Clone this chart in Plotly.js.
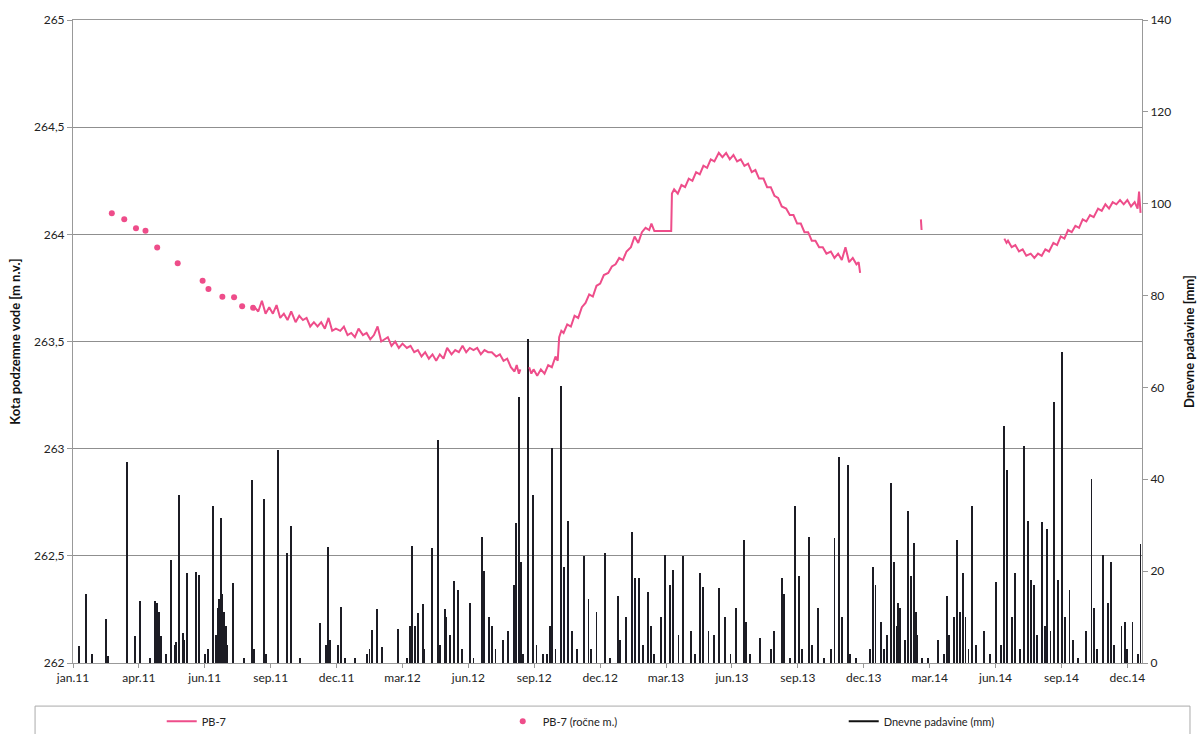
<!DOCTYPE html>
<html>
<head>
<meta charset="utf-8">
<script src="https://cdn.plot.ly/plotly-3.0.1.min.js"></script>
<style>html,body{margin:0;padding:0;background:#fff;}#chart{width:1197px;height:734px;}</style>
</head>
<body>
<div id="chart"></div>
<script>
// Manual measurements PB-7 (ročne m.)
const manualDates = ['2011-02-23','2011-03-12','2011-03-28','2011-04-10','2011-04-26','2011-05-24','2011-06-27','2011-07-05','2011-07-24','2011-08-09','2011-08-20','2011-09-04'];
const manualLevel = [264.098,264.070,264.028,264.017,263.938,263.865,263.784,263.745,263.709,263.706,263.665,263.657];

// Continuous logger PB-7 (m n.v.)
const pb7Dates = [
'2011-09-06','2011-09-11','2011-09-16','2011-09-21','2011-09-26',
'2011-10-01','2011-10-06','2011-10-11','2011-10-16','2011-10-21','2011-10-26',
'2011-11-01','2011-11-06','2011-11-11','2011-11-16','2011-11-21','2011-11-26',
'2011-12-01','2011-12-06','2011-12-11','2011-12-16','2011-12-21','2011-12-26',
'2012-01-01','2012-01-06','2012-01-11','2012-01-16','2012-01-21','2012-01-26',
'2012-02-01','2012-02-06','2012-02-11','2012-02-16','2012-02-21','2012-02-26',
'2012-03-01','2012-03-06','2012-03-11','2012-03-16','2012-03-21','2012-03-26',
'2012-04-01','2012-04-06','2012-04-11','2012-04-16','2012-04-21','2012-04-26',
'2012-05-01','2012-05-06','2012-05-11','2012-05-16','2012-05-21','2012-05-26',
'2012-06-01','2012-06-06','2012-06-11','2012-06-16','2012-06-21','2012-06-26',
'2012-07-01','2012-07-06','2012-07-11','2012-07-16','2012-07-21','2012-07-26',
'2012-08-01','2012-08-06','2012-08-11','2012-08-16','2012-08-21','2012-08-26','2012-08-29','2012-09-01','2012-09-03',
'2012-09-09',
'2012-09-15','2012-09-18','2012-09-21','2012-09-26',
'2012-10-01','2012-10-06','2012-10-11','2012-10-16','2012-10-21','2012-10-24','2012-10-26','2012-10-29',
'2012-11-01','2012-11-06','2012-11-11','2012-11-16','2012-11-21','2012-11-26',
'2012-12-01','2012-12-06','2012-12-11','2012-12-16','2012-12-21','2012-12-26',
'2013-01-01','2013-01-06','2013-01-11','2013-01-16','2013-01-21','2013-01-26',
'2013-02-01','2013-02-06','2013-02-11','2013-02-16','2013-02-21','2013-02-26',
'2013-03-01','2013-03-03','2013-03-05','2013-03-28','2013-03-29',
'2013-04-01','2013-04-06','2013-04-11','2013-04-16','2013-04-21','2013-04-26',
'2013-05-01','2013-05-06','2013-05-11','2013-05-16','2013-05-21','2013-05-26',
'2013-06-01','2013-06-06','2013-06-11','2013-06-16','2013-06-21','2013-06-26',
'2013-07-01','2013-07-06','2013-07-11','2013-07-16','2013-07-21','2013-07-26',
'2013-08-01','2013-08-06','2013-08-11','2013-08-16','2013-08-21','2013-08-26',
'2013-09-01','2013-09-06','2013-09-11','2013-09-16','2013-09-21','2013-09-26',
'2013-10-01','2013-10-06','2013-10-11','2013-10-16','2013-10-21','2013-10-26',
'2013-11-01','2013-11-06','2013-11-11','2013-11-16','2013-11-21','2013-11-26',
'2013-12-01','2013-12-06','2013-12-09','2013-12-11',
'2014-01-15',
'2014-03-04','2014-03-05',
'2014-04-20',
'2014-06-26','2014-06-29',
'2014-07-01','2014-07-06','2014-07-11','2014-07-16','2014-07-21','2014-07-26',
'2014-08-01','2014-08-06','2014-08-11','2014-08-16','2014-08-21','2014-08-26',
'2014-09-01','2014-09-06','2014-09-11','2014-09-16','2014-09-21','2014-09-26',
'2014-10-01','2014-10-06','2014-10-11','2014-10-16','2014-10-21','2014-10-26',
'2014-11-01','2014-11-06','2014-11-11','2014-11-16','2014-11-21','2014-11-26',
'2014-12-01','2014-12-06','2014-12-11','2014-12-16','2014-12-21','2014-12-25','2014-12-27','2014-12-29'
];
const pb7Level = [
263.66,263.64,263.69,263.63,263.66,
263.63,263.67,263.61,263.63,263.60,263.64,
263.59,263.62,263.60,263.61,263.57,263.59,
263.57,263.59,263.56,263.61,263.55,263.56,
263.55,263.57,263.53,263.54,263.52,263.56,
263.53,263.54,263.51,263.53,263.57,263.50,
263.51,263.52,263.48,263.50,263.47,263.49,
263.47,263.48,263.45,263.46,263.43,263.45,
263.42,263.44,263.41,263.44,263.42,263.47,
263.44,263.46,263.45,263.48,263.45,263.47,
263.46,263.47,263.44,263.46,263.45,263.45,
263.43,263.44,263.41,263.42,263.38,263.36,263.39,263.35,263.37,
null,
263.38,263.35,263.37,263.34,
263.37,263.35,263.39,263.38,263.43,263.41,263.52,263.55,
263.54,263.58,263.57,263.62,263.61,263.66,
263.68,263.72,263.71,263.76,263.77,263.81,
263.82,263.85,263.86,263.89,263.88,263.92,
263.94,263.99,263.96,264.01,264.03,264.02,
264.05,264.03,264.015,264.015,264.19,
264.21,264.19,264.23,264.22,264.26,264.25,
264.29,264.28,264.32,264.31,264.35,264.34,
264.38,264.36,264.38,264.35,264.37,264.34,
264.35,264.32,264.33,264.29,264.30,264.26,
264.26,264.22,264.22,264.18,264.17,264.13,
264.12,264.09,264.09,264.05,264.05,264.01,
264.01,263.97,263.97,263.94,263.94,263.91,
263.92,263.89,263.91,263.88,263.94,263.87,
263.89,263.86,263.87,263.82,
null,
264.07,264.02,
null,
263.98,263.96,
263.97,263.94,263.95,263.92,263.93,263.90,
263.91,263.89,263.91,263.90,263.93,263.92,
263.96,263.95,263.99,263.98,264.02,264.01,
264.04,264.03,264.07,264.06,264.09,264.08,
264.12,264.11,264.14,264.12,264.15,264.14,
264.16,264.14,264.16,264.13,264.15,264.12,264.20,264.10
];

// Daily precipitation (mm)
const rainDates = [
'2011-01-09','2011-01-19','2011-01-27','2011-02-15','2011-02-18','2011-03-16','2011-03-27','2011-04-02','2011-04-16','2011-04-23',
'2011-04-26','2011-04-28','2011-05-01','2011-05-08','2011-05-15','2011-05-20','2011-05-22','2011-05-26','2011-05-31','2011-06-02',
'2011-06-06','2011-06-18','2011-06-22','2011-06-30','2011-07-04','2011-07-11','2011-07-15','2011-07-18','2011-07-19','2011-07-22',
'2011-07-23','2011-07-26','2011-07-29','2011-07-30','2011-08-07','2011-08-22','2011-09-02','2011-09-05','2011-09-19','2011-09-21',
'2011-10-08','2011-10-20','2011-10-26','2011-11-07','2011-12-04','2011-12-12','2011-12-15','2011-12-18','2011-12-29','2012-01-02',
'2012-01-07','2012-01-21','2012-02-06','2012-02-10','2012-02-13','2012-02-20','2012-02-27','2012-03-20','2012-04-01','2012-04-05',
'2012-04-08','2012-04-12','2012-04-16','2012-04-23','2012-04-25','2012-05-05','2012-05-13','2012-05-16','2012-05-23','2012-05-25',
'2012-05-30','2012-06-04','2012-06-10','2012-06-15','2012-06-26','2012-07-01','2012-07-12','2012-07-15','2012-07-22','2012-07-26',
'2012-07-31','2012-08-10','2012-08-17','2012-08-25','2012-08-28','2012-09-01','2012-09-04','2012-09-06','2012-09-13','2012-09-20',
'2012-09-25','2012-10-04','2012-10-09','2012-10-13','2012-10-16','2012-10-21','2012-10-28','2012-11-01','2012-11-07','2012-11-12',
'2012-11-19','2012-11-29','2012-12-05','2012-12-09','2012-12-16','2012-12-27','2013-01-03','2013-01-14','2013-01-17','2013-01-25',
'2013-02-03','2013-02-06','2013-02-12','2013-02-18','2013-02-24','2013-02-28','2013-03-05','2013-03-14','2013-03-19','2013-03-26',
'2013-03-30','2013-04-07','2013-04-13','2013-04-24','2013-04-30','2013-05-06','2013-05-11','2013-05-18','2013-05-26','2013-06-01',
'2013-06-09','2013-06-17','2013-06-25','2013-07-05','2013-07-08','2013-07-13','2013-07-27','2013-08-11','2013-08-16','2013-08-26',
'2013-08-29','2013-09-06','2013-09-13','2013-09-18','2013-09-23','2013-10-02','2013-10-06','2013-10-14','2013-10-23','2013-11-01',
'2013-11-06','2013-11-12','2013-11-16','2013-11-24','2013-11-27','2013-12-05','2013-12-24','2013-12-28','2014-01-01','2014-01-08',
'2014-01-13','2014-01-17','2014-01-22','2014-01-26','2014-01-30','2014-02-01','2014-02-04','2014-02-10','2014-02-14','2014-02-18',
'2014-02-22','2014-02-25','2014-02-27','2014-03-06','2014-03-14','2014-03-27','2014-04-05','2014-04-09','2014-04-12','2014-04-18',
'2014-04-22','2014-04-26','2014-04-30','2014-05-04','2014-05-08','2014-05-13','2014-05-18','2014-05-29','2014-06-06','2014-06-15',
'2014-06-22','2014-06-26','2014-06-30','2014-07-06','2014-07-11','2014-07-17','2014-07-23','2014-07-28','2014-08-01','2014-08-06',
'2014-08-10','2014-08-16','2014-08-20','2014-08-23','2014-08-28','2014-09-02','2014-09-07','2014-09-13','2014-09-17','2014-09-23',
'2014-09-28','2014-10-04','2014-10-16','2014-10-23','2014-10-27','2014-10-31','2014-11-08','2014-11-14','2014-11-19','2014-11-23',
'2014-12-03','2014-12-08','2014-12-11','2014-12-18','2014-12-25','2014-12-29'
];
const rainMm = [
3.6,15,2,9.5,1.5,43.7,5.9,13.6,1,13.4,
13,11,5.9,2,22.5,4,4.5,36.6,6.5,5,
19.6,19.8,19.2,2,3,34.1,6,12,14,31.5,
15,11,8,4,17.5,1,39.9,3,35.8,2,
46.4,23.9,29.9,1,8.8,4,25.2,5,4,12.3,
1,1,2,3,7.2,11.7,3.5,7.3,1,8,
25.4,8,10.8,12.8,3,25,48.6,4,11.7,10,
6,17.9,16,3,13,1,27.5,20,10,8,
3,5,7,17,30.5,57.9,22,2,70.6,36.6,
4,2,2,8,46.8,3,60.3,21,31,7,
3,23.2,14,3,11,24,1,14.6,5,10,
28.5,18.5,18.6,4,15.4,8,2,10,23.5,16.9,
20.3,6,23.3,7,2,19.6,16.5,7,6,16.4,
10,2,12,26.7,9,2,5.5,3,7,18.5,
15,1,34.2,19,3,27.5,4,11.9,1,3,
27.2,44.8,10,43.2,2,1,3,21,17,9,
3,6,39.3,22,8,13,12,5,33,19,
26.2,11,6,1,1,5,2,14.6,6,10,
26.7,11,19.7,10,3,34.1,4,7,2,17.7,
4,51.7,42,10,19.5,3,47.2,31,18,17,
6,30.8,8,29.1,7,56.8,18,67.7,10,16,
5,1,7,40.1,12,3,23.5,13.1,22,4,
8,9,3,9,2,26
];

// X-axis tick labels (Excel date axis, major unit 90 days)
const tickDates = ['2011-01-01','2011-04-01','2011-06-30','2011-09-28','2011-12-27','2012-03-26','2012-06-24','2012-09-22','2012-12-21','2013-03-21','2013-06-19','2013-09-17','2013-12-16','2014-03-16','2014-06-14','2014-09-12','2014-12-11'];
const tickLabels = ['jan.11','apr.11','jun.11','sep.11','dec.11','mar.12','jun.12','sep.12','dec.12','mar.13','jun.13','sep.13','dec.13','mar.14','jun.14','sep.14','dec.14'];

const pink = '#ee4d8a';
const FONT = 'Lato, "Liberation Sans", Arial, sans-serif';

const traces = [
  {type:'bar', x: rainDates, y: rainMm, yaxis:'y', width: 2.6*86400000,
   marker:{color:'#1c1c24', line:{width:0}}, showlegend:false, name:'Dnevne padavine (mm)'},
  {type:'scatter', mode:'lines', x: pb7Dates, y: pb7Level, yaxis:'y2', connectgaps:false,
   line:{color:pink, width:2}, name:'PB-7'},
  {type:'scatter', mode:'markers', x: manualDates, y: manualLevel, yaxis:'y2',
   marker:{color:pink, size:6}, name:'PB-7 (ročne m.)'},
  {type:'scatter', mode:'lines', x:[null], y:[null], yaxis:'y',
   line:{color:'#111', width:2}, name:'Dnevne padavine (mm)'}
];

const layout = {
  width:1197, height:734,
  margin:{l:73, r:55, t:20, b:71, autoexpand:false},
  paper_bgcolor:'#fff', plot_bgcolor:'#fff',
  separators:',.',
  font:{family:FONT, size:12, color:'#222'},
  bargap:0,
  showlegend:true,
  legend:{orientation:'h', x:0.083, xanchor:'left', y:-0.068, yanchor:'top',
          entrywidth:296, entrywidthmode:'pixels', font:{size:11, color:'#222', family:FONT},
          bgcolor:'rgba(0,0,0,0)', traceorder:'normal'},
  xaxis:{type:'date', range:['2011-01-01','2014-12-31'], tickmode:'array', tickvals:tickDates, ticktext:tickLabels,
         ticks:'outside', ticklen:4, tickcolor:'#999', showgrid:false, zeroline:false,
         showline:true, linecolor:'#999', linewidth:1, mirror:true,
         tickfont:{size:12, color:'#222', family:FONT}},
  yaxis:{side:'right', range:[0,140], dtick:20, tick0:0, showgrid:false, zeroline:false,
         ticks:'outside', ticklen:5, tickcolor:'#999', showline:true, linecolor:'#999', linewidth:1,
         tickfont:{size:12, color:'#222', family:FONT},
         title:{text:'<b>Dnevne padavine [mm]</b>', font:{size:13, color:'#111', family:FONT}, standoff:14}},
  yaxis2:{overlaying:'y', side:'left', range:[262,265], dtick:0.5, tick0:262, tickformat:'.1~f',
          showgrid:true, gridcolor:'#8f8f8f', gridwidth:1.2, zeroline:false,
          ticks:'outside', ticklen:5, tickcolor:'#999', showline:true, linecolor:'#999', linewidth:1,
          tickfont:{size:12, color:'#222', family:FONT},
          title:{text:'<b>Kota podzemne vode [m n.v.]</b>', font:{size:13, color:'#111', family:FONT}, standoff:10}},
  shapes:[{type:'rect', xref:'paper', yref:'paper', x0:-0.0355, x1:1.0449, y0:-0.125, y1:-0.067,
           line:{color:'#aaa', width:1}, fillcolor:'rgba(0,0,0,0)', layer:'below'}]
};

Plotly.newPlot('chart', traces, layout, {displayModeBar:false, staticPlot:true});
</script>
</body>
</html>
